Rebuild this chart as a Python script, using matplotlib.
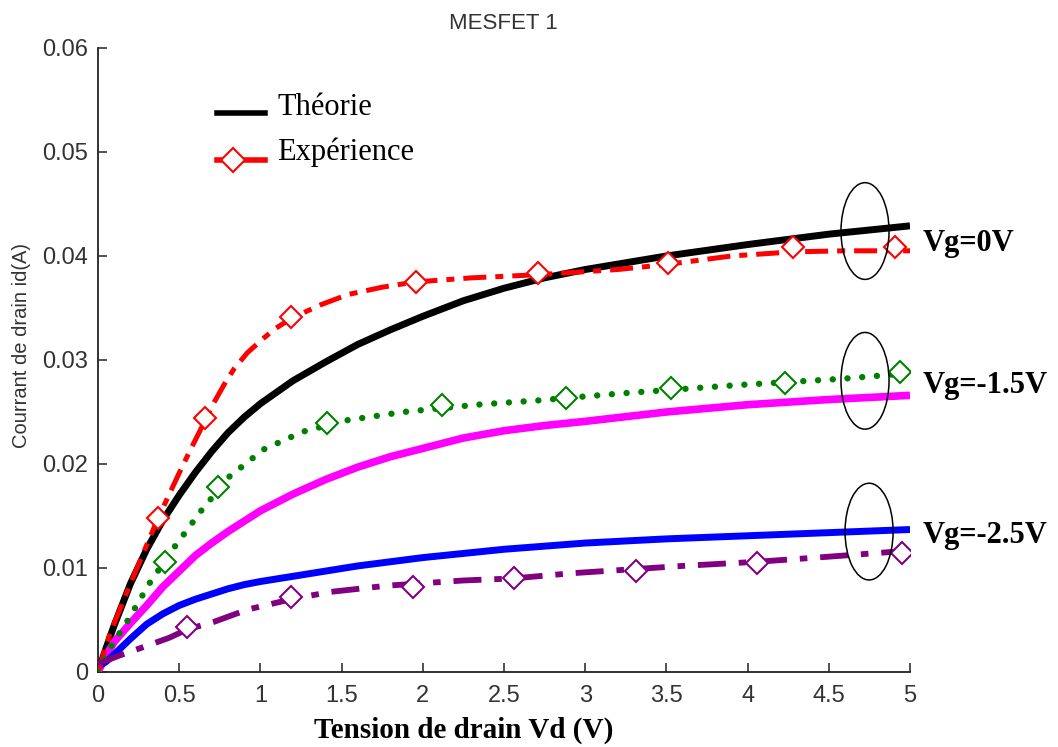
import matplotlib
matplotlib.use("Agg")
import matplotlib.pyplot as plt
from matplotlib.patches import Ellipse
from matplotlib.lines import Line2D

# ---------------- data ----------------
# Theoretical curves (drain voltage in V, drain current in A)
vd_th = [0, 0.05, 0.1, 0.2, 0.3, 0.4, 0.5, 0.6, 0.7, 0.8, 0.9, 1.0, 1.2, 1.4, 1.6, 1.8,
         2.0, 2.25, 2.5, 2.75, 3.0, 3.5, 4.0, 4.5, 5.0]
id_th_0 = [0, 0.0023, 0.0045, 0.0085, 0.0118, 0.0146, 0.0170, 0.0192, 0.0212, 0.0230,
           0.0245, 0.0258, 0.0280, 0.0298, 0.0315, 0.0329, 0.0342, 0.0357, 0.0369, 0.0379,
           0.0387, 0.0400, 0.0411, 0.0421, 0.0429]
id_th_15 = [0, 0.0016, 0.0029, 0.0047, 0.0064, 0.0082, 0.0097, 0.0112, 0.0124, 0.0135,
            0.0145, 0.0155, 0.0171, 0.0185, 0.0197, 0.0207, 0.0215, 0.0225, 0.0232, 0.0237,
            0.0241, 0.0250, 0.0257, 0.0262, 0.0266]
id_th_25 = [0.0005, 0.0010, 0.0017, 0.0032, 0.0046, 0.0056, 0.0064, 0.0070, 0.0075, 0.0080,
            0.0084, 0.0087, 0.0092, 0.0097, 0.0102, 0.0106, 0.0110, 0.0114, 0.0118, 0.0121,
            0.0124, 0.0128, 0.0131, 0.0134, 0.0137]

# Measured points (diamonds)
vd_m0 = [0.37, 0.66, 1.19, 1.96, 2.71, 3.51, 4.28, 4.91]
id_m0 = [0.0148, 0.0244, 0.0341, 0.0375, 0.0384, 0.0393, 0.0409, 0.0409]
vd_m15 = [0.41, 0.74, 1.41, 2.12, 2.88, 3.53, 4.23, 4.94]
id_m15 = [0.0106, 0.0178, 0.0239, 0.0257, 0.0263, 0.0273, 0.0278, 0.0288]
vd_m25 = [0.55, 1.19, 1.94, 2.56, 3.31, 4.06, 4.95]
id_m25 = [0.0043, 0.0072, 0.0082, 0.0090, 0.0097, 0.0105, 0.0114]

# Measured trend curves
vd_e0 = [0, 0.074, 0.2, 0.37, 0.505, 0.567, 0.66, 0.71, 0.79, 0.84, 0.92, 1.02, 1.09, 1.19,
         1.37, 1.54, 1.75, 1.95, 2.3, 2.71, 3.2, 3.51, 3.9, 4.28, 4.6, 5.02]
id_e0 = [0, 0.0037, 0.0085, 0.0148, 0.0193, 0.0213, 0.0242, 0.0258, 0.0280, 0.0292, 0.0307,
         0.0321, 0.0330, 0.0340, 0.0353, 0.0363, 0.0370, 0.0375, 0.0379, 0.0382, 0.0387,
         0.0392, 0.0400, 0.0404, 0.0405, 0.0405]
vd_e15 = [0, 0.086, 0.185, 0.32, 0.47, 0.64, 0.81, 1.02, 1.26, 1.53, 1.88, 2.33, 2.7, 3.23,
          3.95, 4.59, 5.04]
id_e15 = [0, 0.0026, 0.0050, 0.0086, 0.0120, 0.0156, 0.0188, 0.0214, 0.0231, 0.0242, 0.0250,
          0.0257, 0.0261, 0.0268, 0.0276, 0.0282, 0.0288]
vd_e25 = [0, 0.135, 0.28, 0.44, 0.55, 0.71, 0.92, 1.19, 1.43, 1.78, 2.25, 2.56, 2.92, 3.31,
          3.6, 4.06, 4.51, 5.02]
id_e25 = [0.0008, 0.0016, 0.0024, 0.0033, 0.0041, 0.0048, 0.0060, 0.0070, 0.0077, 0.0083,
          0.0088, 0.0090, 0.0095, 0.0099, 0.0102, 0.0106, 0.0111, 0.0117]

x_ticks = [0, 0.5, 1, 1.5, 2, 2.5, 3, 3.5, 4, 4.5, 5]
x_tick_labels = ["0", "0.5", "1", "1.5", "2", "2.5", "3", "3.5", "4", "4.5", "5"]
y_ticks = [0, 0.01, 0.02, 0.03, 0.04, 0.05, 0.06]
y_tick_labels = ["0", "0.01", "0.02", "0.03", "0.04", "0.05", "0.06"]

vg_labels = ["Vg=0V", "Vg=-1.5V", "Vg=-2.5V"]
vg_label_y = [0.0405, 0.0268, 0.0124]
ellipse_x = [4.723, 4.723, 4.748]
ellipse_y = [0.0424, 0.0280, 0.0135]

# ---------------- figure ----------------
W, H = 1058, 747
fig = plt.figure(figsize=(W / 100, H / 100), dpi=100)
ax = fig.add_axes([98 / W, 1 - 672 / H, (910 - 98) / W, (672 - 48) / H])

sans = ["Liberation Sans", "DejaVu Sans"]
serif = ["Liberation Serif", "DejaVu Serif"]
grey = "#333333"

# theory curves
th = dict(solid_capstyle="butt", solid_joinstyle="round", zorder=3)
ax.plot(vd_th, id_th_0, color="black", lw=5.0, **th)
ax.plot(vd_th, id_th_15, color="#ff00ff", lw=5.5, **th)
ax.plot(vd_th, id_th_25, color="#0000ff", lw=5.0, **th)

# measured trend curves
ax.plot(vd_e0, id_e0, color="#ff0000", lw=3.6, dashes=(4.6, 1.8, 1.6, 1.8),
        dash_capstyle="butt", dash_joinstyle="round", zorder=4)
ax.plot(vd_e15, id_e15, color="#008000", lw=4.6, dashes=(0.01, 2.3),
        dash_capstyle="round", zorder=4)
ax.plot(vd_e25, id_e25, color="#800080", lw=4.2, dashes=(4.8, 2.2, 1.3, 2.2),
        dash_capstyle="butt", dash_joinstyle="round", zorder=4)

# measured points
mk = dict(marker="D", ms=11.5, mfc="white", mew=1.5, ls="none", zorder=5)
ax.plot(vd_m0, id_m0, mec="#ff0000", **mk)
ax.plot(vd_m15, id_m15, mec="#008000", **mk)
ax.plot(vd_m25, id_m25, mec="#800080", **mk)

# ellipses grouping the curve ends
for ex, ey in zip(ellipse_x, ellipse_y):
    ax.add_patch(Ellipse((ex, ey), 0.296, 0.0093, fill=False, ec="black",
                         lw=1.1, clip_on=False, zorder=6))

# gate-voltage labels
for lab, ly in zip(vg_labels, vg_label_y):
    ax.text(5.08, ly, lab, fontsize=22, fontweight="bold", family=serif,
            ha="left", va="baseline", clip_on=False)

# axes styling
ax.set_xlim(0, 5)
ax.set_ylim(0, 0.06)
ax.set_xticks(x_ticks)
ax.set_xticklabels(x_tick_labels)
ax.set_yticks(y_ticks)
ax.set_yticklabels(y_tick_labels)
for s in ("top", "right"):
    ax.spines[s].set_visible(False)
for s in ("left", "bottom"):
    ax.spines[s].set_linewidth(1.3)
    ax.spines[s].set_color("#222222")
ax.tick_params(direction="in", length=6.5, width=1.1, colors="#222222",
               labelsize=17, labelcolor=grey)
ax.tick_params(axis="x", pad=9)
ax.tick_params(axis="y", pad=7)
for t in ax.get_xticklabels() + ax.get_yticklabels():
    t.set_family(sans)

# titles and axis labels
fig.text(503 / W, 1 - 29 / H, "MESFET 1", fontsize=16, color=grey, family=sans,
         ha="center", va="baseline")
fig.text(22 / W, 1 - 346 / H, "Courrant de drain id(A)", fontsize=14.5, color=grey,
         family=sans, rotation=90, ha="center", va="center")
fig.text(464 / W, 1 - 738 / H, "Tension de drain Vd (V)", fontsize=21,
         fontweight="bold", family=serif, ha="center", va="baseline")

# legend
fig.add_artist(Line2D([217 / W, 265 / W], [1 - 113 / H, 1 - 113 / H], color="black",
                      lw=4.0, transform=fig.transFigure))
fig.add_artist(Line2D([217 / W, 265 / W], [1 - 160 / H, 1 - 160 / H], color="#ff0000",
                      lw=4.0, transform=fig.transFigure))
fig.add_artist(Line2D([233 / W], [1 - 160 / H], marker="D", ms=12.5, mfc="white",
                      mec="#ff0000", mew=1.5, ls="none", transform=fig.transFigure))
fig.text(277 / W, 1 - 115 / H, "Théorie", fontsize=22, family=serif, va="baseline")
fig.text(277 / W, 1 - 160 / H, "Expérience", fontsize=22, family=serif, va="baseline")

fig.savefig("out.png", dpi=100, facecolor="white")
